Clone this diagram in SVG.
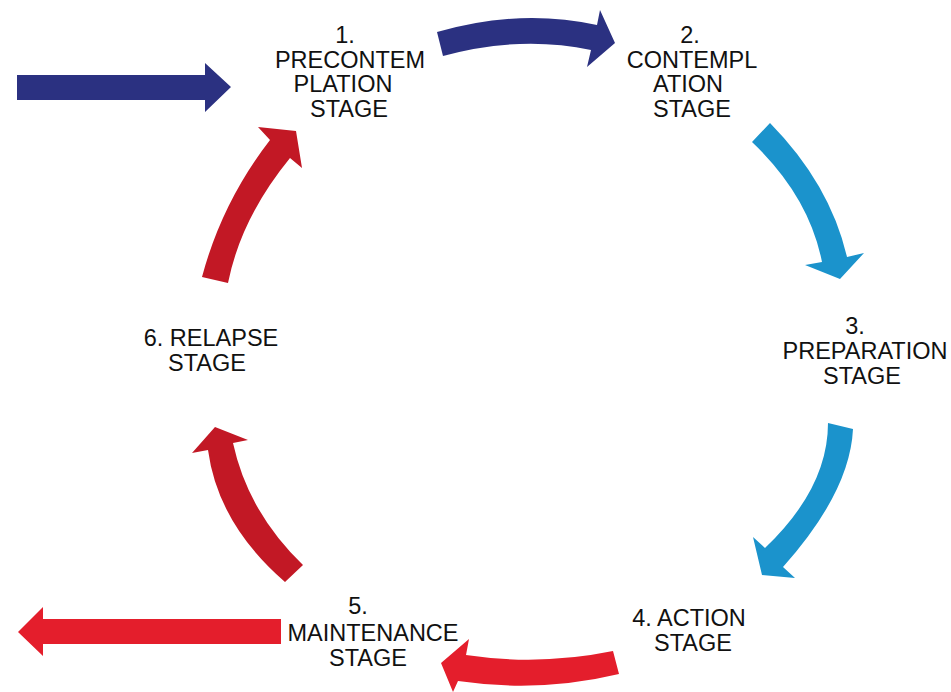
<svg xmlns="http://www.w3.org/2000/svg" width="951" height="692" viewBox="0 0 951 692">
  <style>
    .lbl { font-family: "Liberation Sans", Arial, Helvetica, sans-serif; font-size: 23.5px; fill: #111111; text-anchor: middle; }
    .navy { fill: #2b3181; }
    .sky { fill: #1b93cc; }
    .red { fill: #e41e2c; }
    .crimson { fill: #c21825; }
  </style>
  <rect width="951" height="692" fill="#ffffff"/>

  <!-- stage labels -->
  <g id="stage1">
    <text class="lbl" x="345" y="43">1.</text>
    <text class="lbl" x="350" y="68">PRECONTEM</text>
    <text class="lbl" x="343" y="92">PLATION</text>
    <text class="lbl" x="349" y="117">STAGE</text>
  </g>
  <g id="stage2">
    <text class="lbl" x="690" y="43">2.</text>
    <text class="lbl" x="692" y="68">CONTEMPL</text>
    <text class="lbl" x="688" y="92">ATION</text>
    <text class="lbl" x="692" y="117">STAGE</text>
  </g>
  <g id="stage3">
    <text class="lbl" x="855" y="334">3.</text>
    <text class="lbl" x="865" y="359">PREPARATION</text>
    <text class="lbl" x="862" y="384">STAGE</text>
  </g>
  <g id="stage4">
    <text class="lbl" x="689" y="626">4. ACTION</text>
    <text class="lbl" x="693" y="651">STAGE</text>
  </g>
  <g id="stage5">
    <text class="lbl" x="358" y="614">5.</text>
    <text class="lbl" x="373" y="641">MAINTENANCE</text>
    <text class="lbl" x="368" y="666">STAGE</text>
  </g>
  <g id="stage6">
    <text class="lbl" x="211" y="346">6. RELAPSE</text>
    <text class="lbl" x="207" y="371">STAGE</text>
  </g>

  <!-- connectors: block arrows around the cycle -->
  <g id="connectors">
    <!-- entry into stage 1 -->
    <path class="navy" d="M17 75 L205 75 L205 63 L231 87 L205 112 L205 100 L17 100 Z"/>
    <!-- 1 to 2 -->
    <path class="navy" d="M437 32 Q520 8 597 25 L600 10 L615 43 L587 67 L591 50 Q520 35 443 56 Z"/>
    <!-- 2 to 3 -->
    <path class="sky" d="M752 142 L770 123 Q830 184 847 257 L864 253 L840 279 L805 265 L822 262 Q809 196 752 142 Z"/>
    <!-- 3 to 4 -->
    <path class="sky" d="M828 423 L853 429 Q850 492 783 567 L795 578 L762 575 L753 537 L765 548 Q828 488 828 423 Z"/>
    <!-- 4 to 5 -->
    <path class="red" d="M613 651 Q540 666 466 655 L469 639 L441 663 L453 692 L458 681 Q540 693 619 674 Z"/>
    <!-- exit from stage 5 -->
    <path class="red" d="M281 619 L43 619 L43 607 L18 632 L43 656 L43 644 L281 644 Z"/>
    <!-- 5 to 6 -->
    <path class="crimson" d="M303 565 Q248 512 233 443 L248 440 L215 427 L192 453 L208 450 Q218 524 285 582 Z"/>
    <!-- 6 to 1 -->
    <path class="crimson" d="M202 277 Q222 202 270 140 L258 127 L296 131 L302 168 L290 158 Q241 218 228 283 Z"/>
  </g>
</svg>
